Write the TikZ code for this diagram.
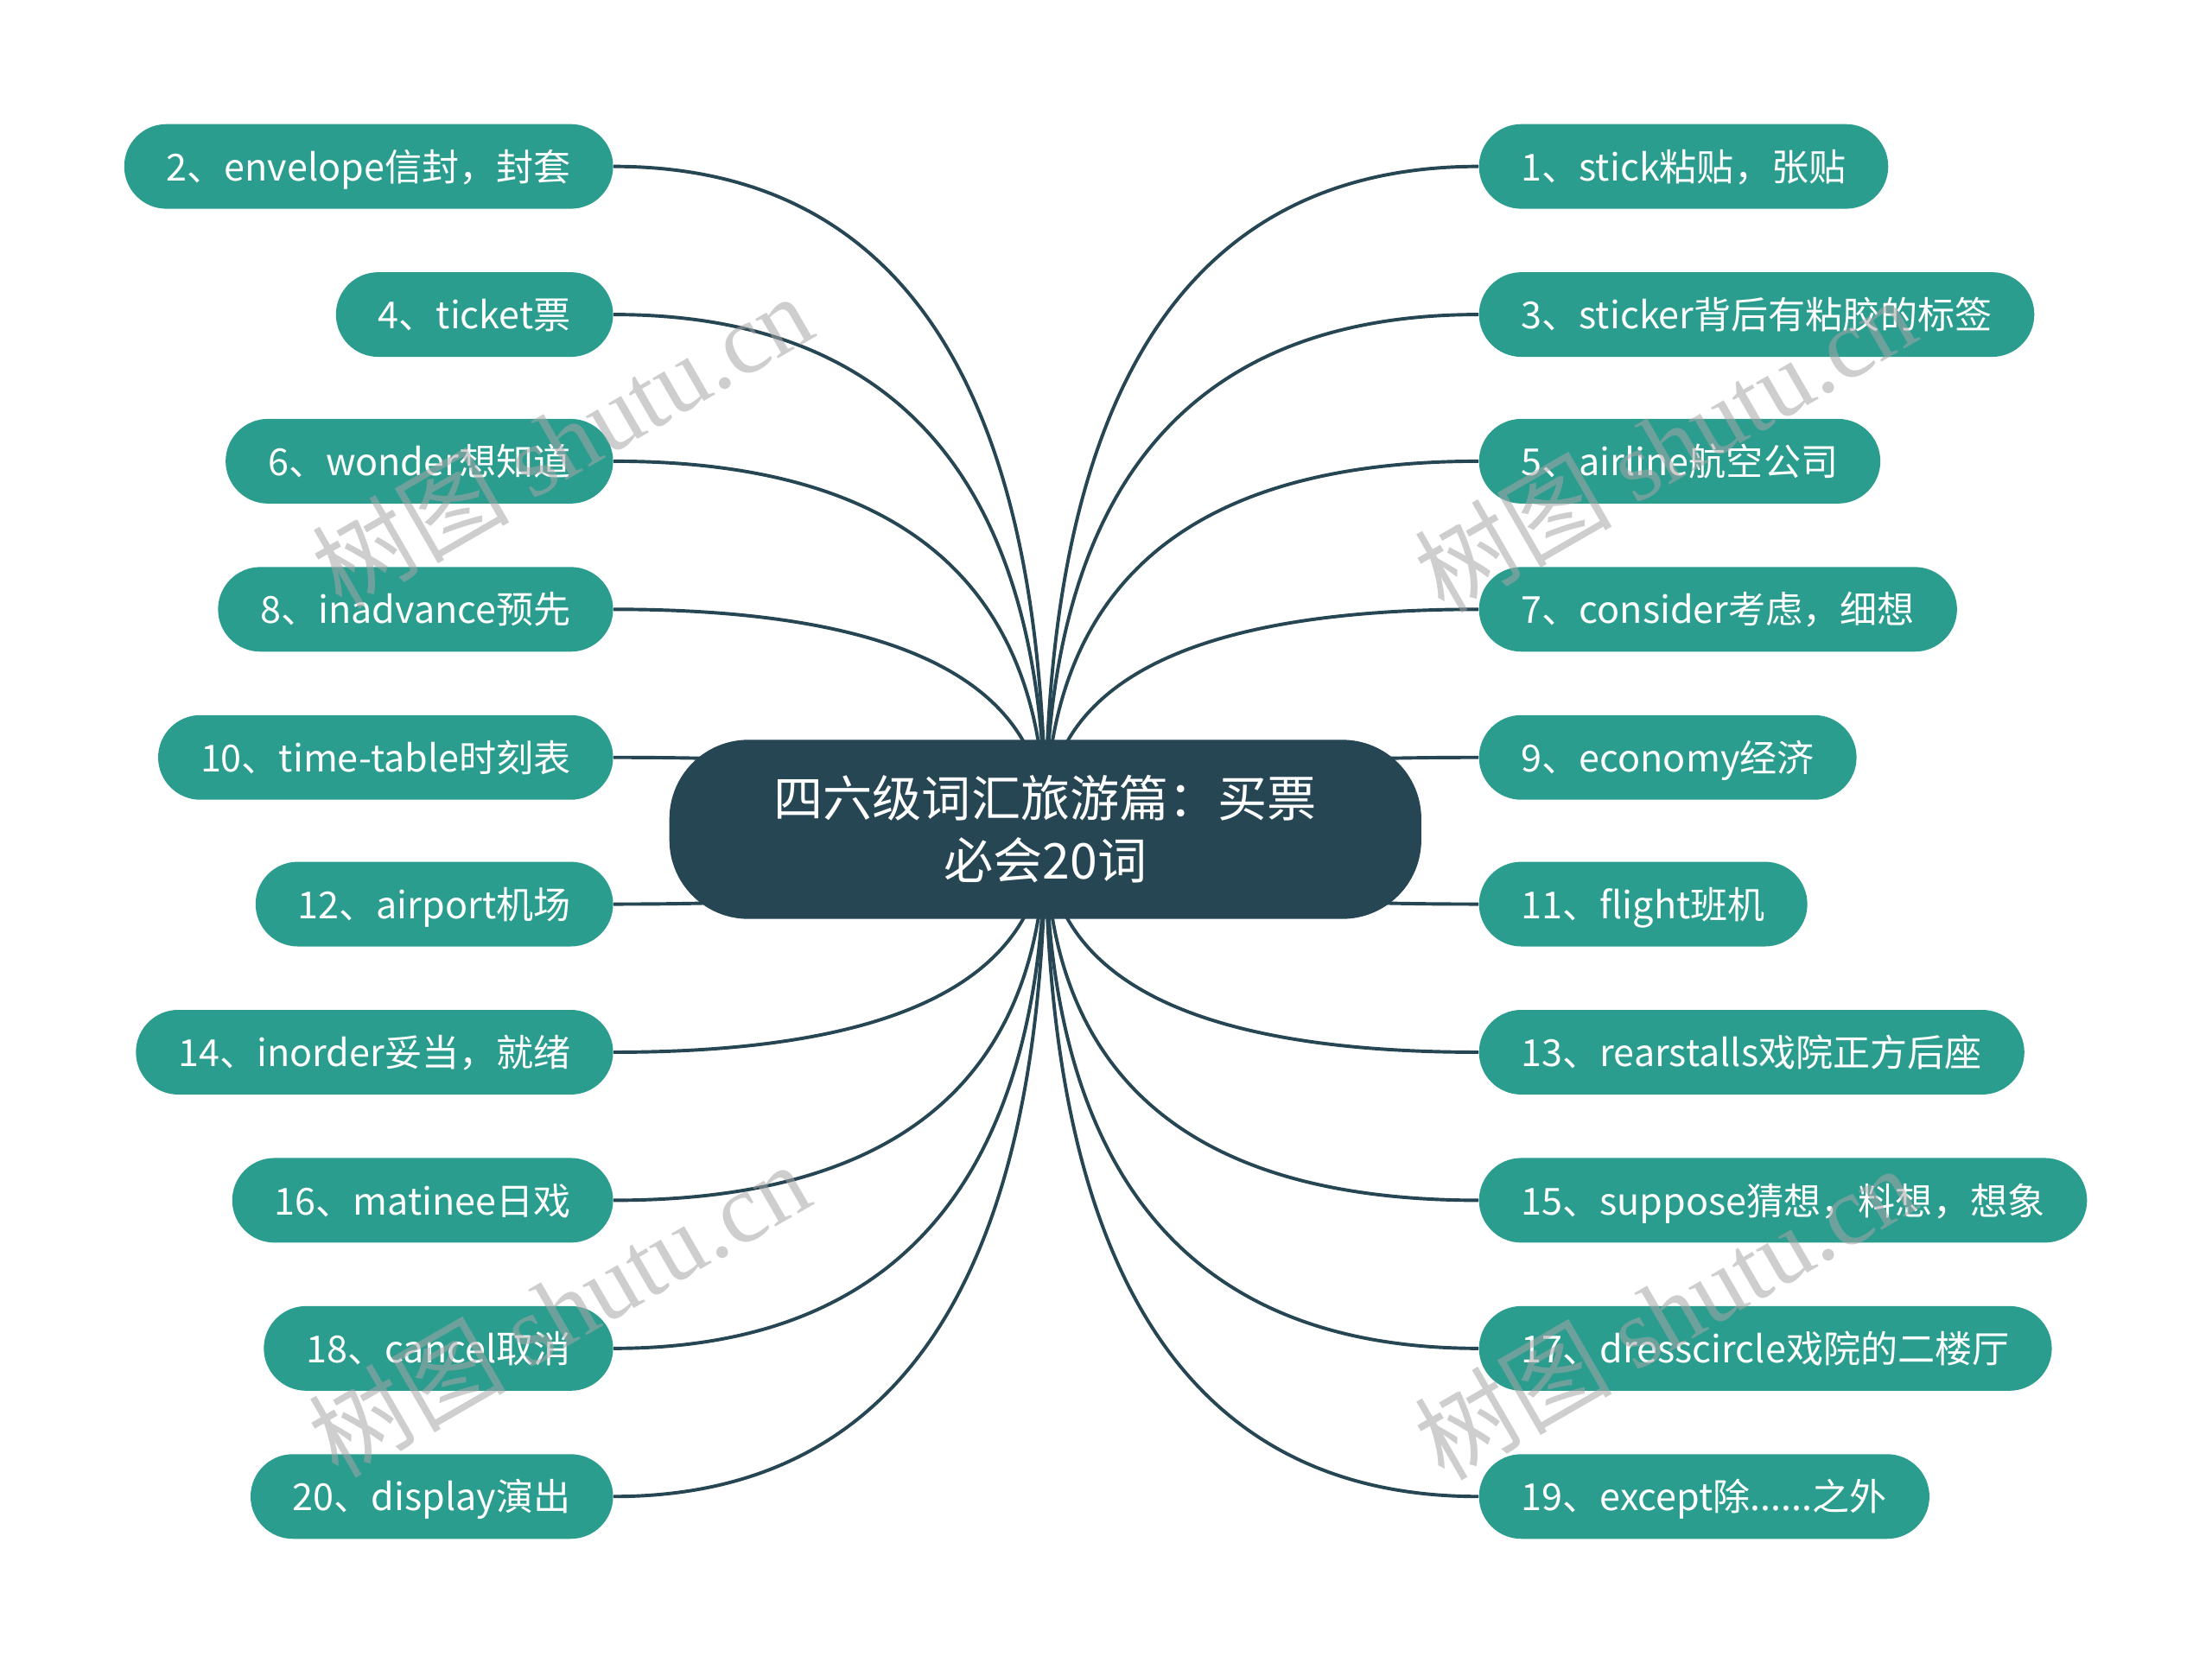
\documentclass[tikz,border=0pt]{standalone}
\usepackage{fontspec}
\setmainfont{Noto Sans CJK SC}
\newfontfamily\wmserif{Liberation Serif}
\usetikzlibrary{calc,backgrounds}
\definecolor{leafc}{HTML}{2A9D8F}
\definecolor{rootc}{HTML}{264653}
\definecolor{edgec}{HTML}{264653}
\begin{document}
\begin{tikzpicture}[x=0.5pt,y=-0.5pt,
  leaf/.style={fill=leafc, text=white, rounded corners=15pt, minimum height=30pt,
    inner xsep=15pt, inner ysep=0pt, font=\fontsize{13.2}{16}\selectfont,
    text height=12pt, text depth=1.8pt},
  leftleaf/.style={leaf, anchor=east},
  rightleaf/.style={leaf, anchor=west},
  link/.style={draw=edgec, line width=1.2pt},
  wm/.style={rotate=30, text=black!35, opacity=0.55, inner sep=0pt,
    font=\fontsize{35}{35}\selectfont}
]
\useasboundingbox (0,0) rectangle (1568,1179);

\node[fill=rootc, text=white, rounded corners=28pt, minimum width=266.5pt,
  minimum height=63.5pt, inner sep=0pt, align=center,
  font=\fontsize{17.5}{22}\selectfont] (root) at (741,588)
  {四六级词汇旅游篇：买票\\必会20词};

% left children
\node[leftleaf] (c2)  at (435,118)  {2、envelope信封，封套};
\node[leftleaf] (c4)  at (435,223)  {4、ticket票};
\node[leftleaf] (c6)  at (435,327)  {6、wonder想知道};
\node[leftleaf] (c8)  at (435,432)  {8、inadvance预先};
\node[leftleaf] (c10) at (435,537)  {10、time-table时刻表};
\node[leftleaf] (c12) at (435,641)  {12、airport机场};
\node[leftleaf] (c14) at (435,746)  {14、inorder妥当，就绪};
\node[leftleaf] (c16) at (435,851)  {16、matinee日戏};
\node[leftleaf] (c18) at (435,956)  {18、cancel取消};
\node[leftleaf] (c20) at (435,1061) {20、display演出};

% right children
\node[rightleaf] (c1)  at (1048,118)  {1、stick粘贴，张贴};
\node[rightleaf] (c3)  at (1048,223)  {3、sticker背后有粘胶的标签};
\node[rightleaf] (c5)  at (1048,327)  {5、airline航空公司};
\node[rightleaf] (c7)  at (1048,432)  {7、consider考虑，细想};
\node[rightleaf] (c9)  at (1048,537)  {9、economy经济};
\node[rightleaf] (c11) at (1048,641)  {11、flight班机};
\node[rightleaf] (c13) at (1048,746)  {13、rearstalls戏院正方后座};
\node[rightleaf] (c15) at (1048,851)  {15、suppose猜想，料想，想象};
\node[rightleaf] (c17) at (1048,956)  {17、dresscircle戏院的二楼厅};
\node[rightleaf] (c19) at (1048,1061) {19、except除......之外};

\begin{scope}[on background layer]
  \fill[white] (0,0) rectangle (1568,1179);
  \foreach \n in {2,4,...,20}{
    \draw[link] (root.center)
      .. controls ($(root.center)!0.6667!(root.center |- c\n.east)$)
      and ($(c\n.east)!0.6667!(root.center |- c\n.east)$) .. (c\n.east);
  }
  \foreach \n in {1,3,...,19}{
    \draw[link] (root.center)
      .. controls ($(root.center)!0.6667!(root.center |- c\n.west)$)
      and ($(c\n.west)!0.6667!(root.center |- c\n.west)$) .. (c\n.west);
  }
\end{scope}

% watermarks
\node[wm] (wm1) at (398,312)  {树图 {\wmserif shutu.cn}};
\node[wm] (wm2) at (1180,315) {树图 {\wmserif shutu.cn}};
\node[wm] (wm3) at (396,928)  {树图 {\wmserif shutu.cn}};
\node[wm] (wm4) at (1180,930) {树图 {\wmserif shutu.cn}};
\end{tikzpicture}
\end{document}
